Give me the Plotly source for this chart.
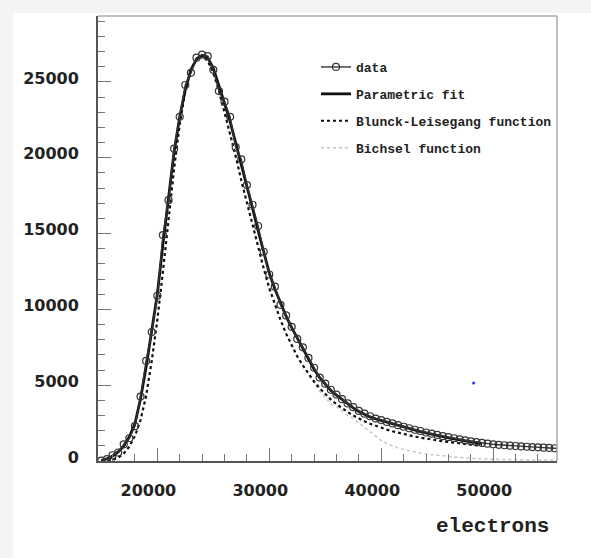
import plotly.graph_objects as go

# ---- data ----
x_data = list(range(15000, 56001, 500))
data_vals = [30, 120, 380, 560, 1100, 1500, 2300, 4250, 6600, 8500,
             10900, 14900, 17200, 20600, 22700, 24800, 25600, 26600, 26800, 26700,
             25800, 24400, 23700, 22700, 20700, 19900, 18200, 16900, 15500, 13800,
             12300, 11500, 10300, 9600, 8850, 8050, 7500, 6800, 6150, 5500,
             5100, 4700, 4380, 4080, 3800, 3550, 3300, 3120, 2950, 2800,
             2700, 2580, 2480, 2360, 2260, 2160, 2060, 1980, 1880, 1800,
             1720, 1640, 1570, 1500, 1430, 1360, 1300, 1240, 1190, 1140,
             1100, 1070, 1040, 1010, 990, 960, 940, 920, 900, 880,
             860, 840, 820]

x_fit = list(range(15000, 49001, 500))
fit_vals = [50, 150, 330, 600, 1000, 1600, 2450, 4100, 6200, 8700,
            11000, 14300, 17500, 20400, 22700, 24500, 25800, 26500, 26750, 26600,
            25900, 24800, 23600, 22400, 21000, 19600, 18250, 16700, 15200, 13750,
            12400, 11350, 10400, 9550, 8800, 8100, 7450, 6750, 6050, 5500,
            5050, 4650, 4350, 4050, 3770, 3500, 3270, 3070, 2900, 2780,
            2670, 2560, 2450, 2340, 2230, 2130, 2030, 1940, 1850, 1760,
            1680, 1600, 1530, 1460, 1390, 1320, 1260, 1200, 1150]

blunck_vals = [0, 10, 60, 220, 500, 950, 1650, 2700, 4300, 6600,
               9300, 12500, 16000, 19300, 22200, 24400, 25800, 26500, 26700, 26400,
               25600, 24400, 23000, 21600, 20100, 18500, 17000, 15500, 14100, 12700,
               11400, 10300, 9300, 8400, 7600, 6900, 6300, 5750, 5250, 4800,
               4400, 4050, 3750, 3480, 3230, 3000, 2800, 2620, 2460, 2320,
               2190, 2070, 1960, 1860, 1770, 1690, 1610, 1540, 1470, 1410,
               1350, 1300, 1250, 1200, 1160, 1120, 1080, 1040, 1010]

x_bichsel = list(range(15000, 56001, 500))
bichsel_vals = [0, 10, 60, 220, 500, 950, 1650, 2700, 4300, 6600,
                9300, 12500, 16000, 19300, 22200, 24400, 25800, 26500, 26700, 26400,
                25600, 24400, 23000, 21600, 20100, 18500, 17000, 15500, 14100, 12700,
                11400, 10300, 9300, 8400, 7600, 6900, 6300, 5700, 5100, 4600,
                4150, 3750, 3600, 3300, 3000, 2800, 2500, 2200, 1900, 1600,
                1350, 1150, 980, 860, 750, 660, 590, 530, 470, 420,
                370, 330, 290, 260, 230, 200, 180, 160, 140, 125,
                110, 100, 95, 90, 85, 80, 76, 72, 68, 65,
                62, 60, 58]

stray_x = [48250]
stray_y = [5150]

x_range = [14700, 55700]
y_range = [0, 29350]

fig = go.Figure()

fig.add_trace(go.Scatter(x=x_bichsel, y=bichsel_vals, mode="lines",
                         name="Bichsel function", legendrank=4,
                         legendgroup="d",
                         line=dict(color="#c4c4c4", width=1.5, dash="dot")))
fig.add_trace(go.Scatter(x=x_fit, y=blunck_vals, mode="lines",
                         name="Blunck-Leisegang function", legendrank=3,
                         legendgroup="c",
                         line=dict(color="#111111", width=2.2, dash="dot")))
fig.add_trace(go.Scatter(x=x_fit, y=fit_vals, mode="lines",
                         name="Parametric fit", legendrank=2,
                         legendgroup="b",
                         line=dict(color="#111111", width=2.8)))
fig.add_trace(go.Scatter(x=x_data, y=data_vals, mode="lines+markers",
                         name="data", legendrank=1,
                         legendgroup="a",
                         line=dict(color="#333333", width=1.4),
                         marker=dict(symbol="circle-open", size=7,
                                     color="#333333", line=dict(width=1.2))))
fig.add_trace(go.Scatter(x=stray_x, y=stray_y, mode="markers",
                         showlegend=False,
                         marker=dict(symbol="circle", size=3, color="#2233ff")))

L, R, T, B = 98, 34, 16, 97
W, H = 591, 558
pw, ph = W - L - R, H - T - B

def px2paper_x(px):
    return (px - L) / pw

def px2paper_y(py):
    return (H - B - py) / ph

# light grey screenshot strips and plot frame
fig.add_shape(type="rect", xref="paper", yref="paper",
              x0=px2paper_x(13), x1=px2paper_x(W + 5),
              y0=px2paper_y(H + 5), y1=px2paper_y(13),
              fillcolor="white", line=dict(width=0), layer="below")
fig.add_shape(type="line", xref="paper", yref="paper", x0=0, x1=1, y0=1, y1=1,
              line=dict(color="#aaaaaa", width=1.5))
fig.add_shape(type="line", xref="paper", yref="paper", x0=1, x1=1, y0=0, y1=1,
              line=dict(color="#aaaaaa", width=1.5))

fig.add_annotation(text="electrons", xref="paper", yref="paper",
                   x=px2paper_x(551), y=px2paper_y(526),
                   xanchor="right", yanchor="middle", showarrow=False,
                   font=dict(family="Liberation Mono", size=21, color="#222222",
                             weight="bold"))

tickfont = dict(family="DejaVu Sans", size=16, color="#222222", weight="bold")

fig.update_layout(
    width=W, height=H,
    margin=dict(l=L, r=R, t=T, b=B, pad=0),
    paper_bgcolor="#f4f4f4",
    plot_bgcolor="white",
    showlegend=True,
    legend=dict(x=px2paper_x(316), y=px2paper_y(52), xanchor="left", yanchor="top",
                bgcolor="rgba(0,0,0,0)", borderwidth=0,
                traceorder="grouped", tracegroupgap=7,
                font=dict(family="Liberation Mono", size=13, color="#222222",
                          weight="bold")),
    xaxis=dict(range=x_range, showgrid=False, zeroline=False,
               showline=True, linecolor="#555555", linewidth=1.5,
               ticks="inside", ticklen=13, tickwidth=1.2, tickcolor="#777777",
               tick0=0, dtick=10000, tickformat="d", tickfont=tickfont,
               ticklabelshift=-9, ticklabelstandoff=14,
               minor=dict(ticks="inside", ticklen=7, dtick=2000, tick0=0,
                          tickcolor="#777777", tickwidth=1)),
    yaxis=dict(range=y_range, showgrid=False, zeroline=False,
               showline=True, linecolor="#555555", linewidth=2,
               ticks="inside", ticklen=13, tickwidth=1.2, tickcolor="#777777",
               tick0=0, dtick=5000, tickformat="d", tickfont=tickfont,
               ticklabelstandoff=14, ticklabelshift=-4,
               minor=dict(ticks="inside", ticklen=7, dtick=1000, tick0=0,
                          tickcolor="#777777", tickwidth=1)),
)

fig.write_html("out.html", config={"displayModeBar": False},
               post_script="document.body.style.margin='0px';")
